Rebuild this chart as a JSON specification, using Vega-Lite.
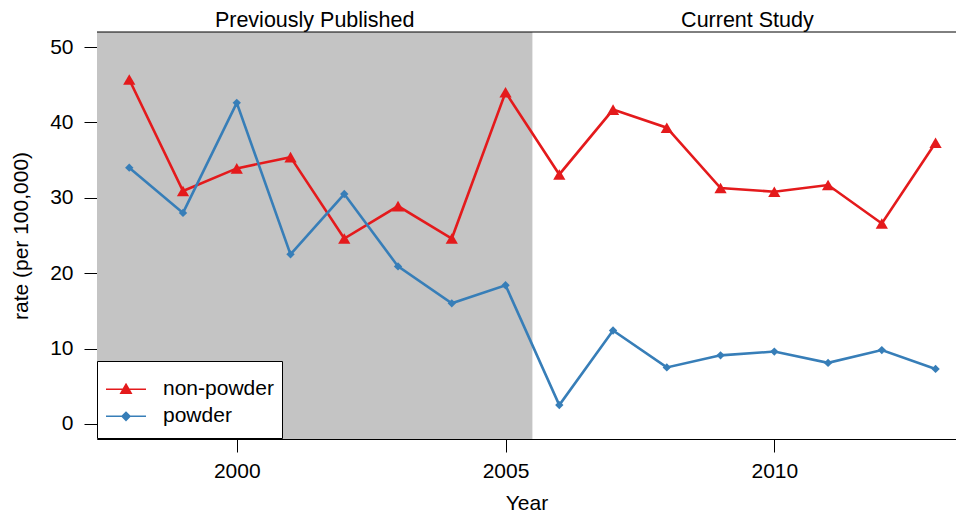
{
  "$schema": "https://vega.github.io/schema/vega-lite/v6.json",
  "width": 859,
  "height": 407,
  "autosize": {"type": "none"},
  "padding": {"left": 97, "top": 32, "right": 0, "bottom": 76},
  "background": "white",
  "config": {
    "view": {"stroke": null},
    "font": "Liberation Sans",
    "axis": {
      "labelFont": "Liberation Sans",
      "labelFontSize": 21,
      "labelColor": "black",
      "titleFont": "Liberation Sans",
      "titleFontSize": 21,
      "titleFontWeight": "normal",
      "titleColor": "black",
      "domainColor": "black",
      "domainWidth": 1,
      "tickColor": "black",
      "tickWidth": 1,
      "tickSize": 13,
      "grid": false
    },
    "legend": {
      "labelFont": "Liberation Sans"
    }
  },
  "datasets": {
    "rates": [
      {"year": 1998, "series": "non-powder", "rate": 45.7},
      {"year": 1999, "series": "non-powder", "rate": 30.9},
      {"year": 2000, "series": "non-powder", "rate": 33.9},
      {"year": 2001, "series": "non-powder", "rate": 35.4},
      {"year": 2002, "series": "non-powder", "rate": 24.6},
      {"year": 2003, "series": "non-powder", "rate": 28.9},
      {"year": 2004, "series": "non-powder", "rate": 24.6},
      {"year": 2005, "series": "non-powder", "rate": 44.0},
      {"year": 2006, "series": "non-powder", "rate": 33.1},
      {"year": 2007, "series": "non-powder", "rate": 41.7},
      {"year": 2008, "series": "non-powder", "rate": 39.3},
      {"year": 2009, "series": "non-powder", "rate": 31.3},
      {"year": 2010, "series": "non-powder", "rate": 30.8},
      {"year": 2011, "series": "non-powder", "rate": 31.7},
      {"year": 2012, "series": "non-powder", "rate": 26.6},
      {"year": 2013, "series": "non-powder", "rate": 37.3},
      {"year": 1998, "series": "powder", "rate": 34.0},
      {"year": 1999, "series": "powder", "rate": 28.0},
      {"year": 2000, "series": "powder", "rate": 42.6},
      {"year": 2001, "series": "powder", "rate": 22.5},
      {"year": 2002, "series": "powder", "rate": 30.5},
      {"year": 2003, "series": "powder", "rate": 20.9},
      {"year": 2004, "series": "powder", "rate": 16.0},
      {"year": 2005, "series": "powder", "rate": 18.4},
      {"year": 2006, "series": "powder", "rate": 2.5},
      {"year": 2007, "series": "powder", "rate": 12.4},
      {"year": 2008, "series": "powder", "rate": 7.5},
      {"year": 2009, "series": "powder", "rate": 9.1},
      {"year": 2010, "series": "powder", "rate": 9.6},
      {"year": 2011, "series": "powder", "rate": 8.1},
      {"year": 2012, "series": "powder", "rate": 9.8},
      {"year": 2013, "series": "powder", "rate": 7.3}
    ],
    "periods": [
      {"start": 1997.4, "end": 2005.5, "lo": -2, "hi": 52}
    ],
    "labels": [
      {"pos": 2001.45, "label": "Previously Published", "ypos": 52.7},
      {"pos": 2009.5, "label": "Current Study", "ypos": 52.7}
    ]
  },
  "layer": [
    {
      "data": {"name": "periods"},
      "mark": {"type": "rect", "color": "#C4C4C4", "clip": true},
      "encoding": {
        "x": {"field": "start", "type": "quantitative",
              "scale": {"domain": [1997.4, 2013.38], "nice": false, "zero": false},
              "axis": {"values": [2000, 2005, 2010], "format": "d",
                       "title": "Year", "labelPadding": 8, "titlePadding": 11}},
        "x2": {"field": "end"},
        "y": {"field": "lo", "type": "quantitative",
              "scale": {"domain": [-2, 52], "nice": false, "zero": false},
              "axis": {"values": [0, 10, 20, 30, 40, 50],
                       "title": "rate (per 100,000)", "labelPadding": 11, "titlePadding": 18}},
        "y2": {"field": "hi"}
      }
    },
    {
      "data": {"name": "periods"},
      "mark": {"type": "rule", "color": "black", "strokeWidth": 1},
      "encoding": {
        "y": {"field": "hi", "type": "quantitative"}
      }
    },
    {
      "data": {"name": "rates"},
      "mark": {"type": "line", "strokeWidth": 2.6},
      "encoding": {
        "x": {"field": "year", "type": "quantitative"},
        "y": {"field": "rate", "type": "quantitative"},
        "color": {"field": "series", "type": "nominal",
                  "scale": {"domain": ["non-powder", "powder"], "range": ["#E41A1C", "#377EB8"]}}
      }
    },
    {
      "data": {"name": "rates"},
      "transform": [{"filter": "datum.series === 'non-powder'"}],
      "mark": {"type": "point", "filled": true, "opacity": 1, "shape": "triangle-up", "size": 150},
      "encoding": {
        "x": {"field": "year", "type": "quantitative"},
        "y": {"field": "rate", "type": "quantitative"},
        "color": {"field": "series", "type": "nominal"}
      }
    },
    {
      "data": {"name": "rates"},
      "transform": [{"filter": "datum.series === 'powder'"}],
      "mark": {"type": "point", "filled": true, "opacity": 1, "shape": "diamond", "size": 70},
      "encoding": {
        "x": {"field": "year", "type": "quantitative"},
        "y": {"field": "rate", "type": "quantitative"},
        "color": {"field": "series", "type": "nominal"}
      }
    },
    {
      "data": {"name": "labels"},
      "mark": {"type": "text", "fontSize": 21.5, "font": "Liberation Sans", "color": "black",
               "align": "center", "baseline": "alphabetic", "clip": false},
      "encoding": {
        "x": {"field": "pos", "type": "quantitative"},
        "y": {"field": "ypos", "type": "quantitative"},
        "text": {"field": "label"}
      }
    },
    {
      "data": {"name": "rates"},
      "transform": [{"filter": "datum.year > 3000"}],
      "mark": {"type": "point", "filled": true, "opacity": 1},
      "encoding": {
        "x": {"field": "year", "type": "quantitative"},
        "y": {"field": "rate", "type": "quantitative"},
        "color": {"field": "series", "type": "nominal",
                  "legend": {"title": " ", "titleFontSize": 2, "titlePadding": 5,
                             "orient": "none", "legendX": 0, "legendY": 329,
                             "fillColor": "white", "strokeColor": "black", "padding": 8,
                             "symbolSize": 1600, "symbolStrokeWidth": 1.5,
                             "clipHeight": 26.7, "rowPadding": 0,
                             "labelFontSize": 21, "labelColor": "black", "labelOffset": 16,
                             "labelFont": "Liberation Sans",
                             "encode": {"symbols": {"update": {"stroke": {"scale": "color", "field": "value"}, "fill": {"scale": "color", "field": "value"}}}}}},
        "shape": {"field": "series", "type": "nominal",
                  "scale": {"domain": ["non-powder", "powder"],
                            "range": ["M-1,0L1,0M0,-0.26L0.26,0.19L-0.26,0.19Z", "M-1,0L1,0M0,-0.2L0.2,0L0,0.2L-0.2,0Z"]},
                  "legend": {"title": " ", "titleFontSize": 2, "titlePadding": 5,
                             "orient": "none", "legendX": 0, "legendY": 329,
                             "fillColor": "white", "strokeColor": "black", "padding": 8,
                             "symbolSize": 1600, "symbolStrokeWidth": 1.5,
                             "clipHeight": 26.7, "rowPadding": 0,
                             "labelFontSize": 21, "labelColor": "black", "labelOffset": 16,
                             "labelFont": "Liberation Sans"}}
      }
    }
  ]
}
